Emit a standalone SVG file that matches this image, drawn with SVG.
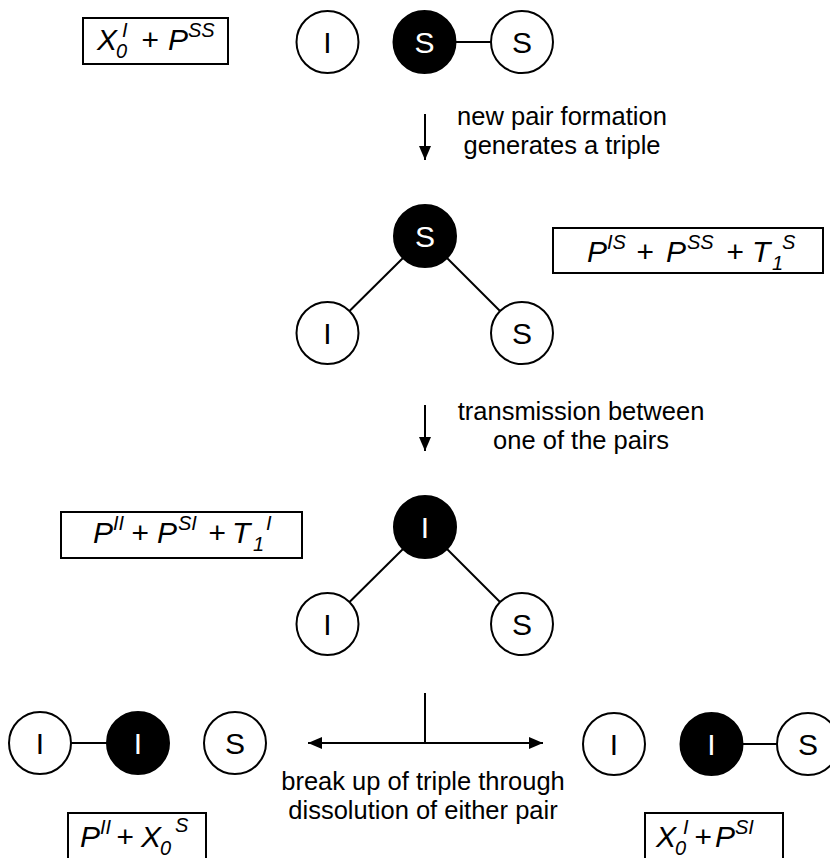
<svg xmlns="http://www.w3.org/2000/svg" width="830" height="858" viewBox="0 0 830 858">
<style>
  .c { fill: #fff; stroke: #000; stroke-width: 2; }
  .f { fill: #000; stroke: #000; stroke-width: 2; }
  .lt { font-family: "Liberation Sans", Arial, sans-serif; font-size: 30px; text-anchor: middle; fill: #000; }
  .lw { font-family: "Liberation Sans", Arial, sans-serif; font-size: 30px; text-anchor: middle; fill: #fff; }
  .box { fill: #fff; stroke: #000; stroke-width: 2; }
  .eq { font-family: "Liberation Sans", Arial, sans-serif; font-size: 30px; font-style: italic; fill: #000; }
  .sc { font-size: 20px; }
  .cap { font-family: "Liberation Sans", Arial, sans-serif; font-size: 25.5px; text-anchor: middle; fill: #000; }
  .edge { stroke: #000; stroke-width: 2; fill: none; }
  .arr { stroke: #000; stroke-width: 2; fill: none; marker-end: url(#ah); }
</style>
<defs>
  <marker id="ah" markerUnits="userSpaceOnUse" markerWidth="14" markerHeight="12" refX="14" refY="6" orient="auto-start-reverse">
    <path d="M0,0 L14,6 L0,12 z" fill="#000"/>
  </marker>
</defs>
<rect width="830" height="858" fill="#fff"/>

<g id="connectors">
  <line class="edge" x1="455.5" y1="42" x2="491" y2="42"/>
  <line class="edge" x1="403" y1="258" x2="349.5" y2="311"/>
  <line class="edge" x1="447" y1="258" x2="500" y2="311"/>
  <line class="edge" x1="403" y1="549" x2="349.5" y2="602"/>
  <line class="edge" x1="447" y1="549" x2="500" y2="602"/>
  <line class="edge" x1="71" y1="743" x2="107" y2="743"/>
  <line class="edge" x1="742.5" y1="744" x2="777" y2="744"/>
  <line class="arr" x1="425" y1="114" x2="425" y2="160"/>
  <line class="arr" x1="425" y1="405" x2="425" y2="451"/>
  <line class="edge" x1="425" y1="693" x2="425" y2="743"/>
  <line class="arr" style="marker-start:url(#ah)" x1="308" y1="743" x2="543" y2="743"/>
</g>

<g id="eq1">
  <rect class="box" x="83" y="18" width="145" height="46"/>
  <text class="eq"><tspan x="97" y="50">X</tspan><tspan class="sc" x="116" y="58">0</tspan><tspan class="sc" x="122" y="37">I</tspan><tspan x="141" y="50">+</tspan><tspan x="168" y="50">P</tspan><tspan class="sc" x="188" y="37">SS</tspan></text>
</g>
<g id="n1a"><circle class="c" cx="327.5" cy="42" r="31"/><text class="lt" x="327.5" y="53">I</text></g>
<g id="n1b"><circle class="f" cx="424.5" cy="42" r="31"/><text class="lw" x="424.5" y="53">S</text></g>
<g id="n1c"><circle class="c" cx="522" cy="42" r="31"/><text class="lt" x="522" y="53">S</text></g>

<g id="label1">
  <text class="cap" x="562" y="125">new pair formation</text>
  <text class="cap" x="562" y="154">generates a triple</text>
</g>

<g id="n2a"><circle class="f" cx="425" cy="236" r="31"/><text class="lw" x="425" y="247">S</text></g>
<g id="n2b"><circle class="c" cx="327.5" cy="333" r="31"/><text class="lt" x="327.5" y="344">I</text></g>
<g id="n2c"><circle class="c" cx="522" cy="333" r="31"/><text class="lt" x="522" y="344">S</text></g>
<g id="eq2">
  <rect class="box" x="553" y="228" width="270" height="45"/>
  <text class="eq"><tspan x="587" y="262">P</tspan><tspan class="sc" x="607" y="249">IS</tspan><tspan x="636" y="262">+</tspan><tspan x="666" y="262">P</tspan><tspan class="sc" x="687" y="249">SS</tspan><tspan x="726" y="262">+</tspan><tspan x="752" y="262">T</tspan><tspan class="sc" x="772" y="270">1</tspan><tspan class="sc" x="782" y="249">S</tspan></text>
</g>

<g id="label2">
  <text class="cap" x="581" y="420">transmission between</text>
  <text class="cap" x="581" y="449">one of the pairs</text>
</g>

<g id="n3a"><circle class="f" cx="425" cy="527" r="31"/><text class="lw" x="425" y="538">I</text></g>
<g id="n3b"><circle class="c" cx="327.5" cy="624" r="31"/><text class="lt" x="327.5" y="635">I</text></g>
<g id="n3c"><circle class="c" cx="522" cy="624" r="31"/><text class="lt" x="522" y="635">S</text></g>
<g id="eq3">
  <rect class="box" x="61" y="512" width="241" height="46"/>
  <text class="eq"><tspan x="93" y="543">P</tspan><tspan class="sc" x="113" y="530">II</tspan><tspan x="131" y="543">+</tspan><tspan x="157" y="543">P</tspan><tspan class="sc" x="178" y="530">SI</tspan><tspan x="208" y="543">+</tspan><tspan x="232" y="543">T</tspan><tspan class="sc" x="253" y="551">1</tspan><tspan class="sc" x="266" y="530">I</tspan></text>
</g>

<g id="n4a"><circle class="c" cx="40" cy="743" r="31"/><text class="lt" x="40" y="754">I</text></g>
<g id="n4b"><circle class="f" cx="138" cy="743" r="31"/><text class="lw" x="138" y="754">I</text></g>
<g id="n4c"><circle class="c" cx="235" cy="743" r="31"/><text class="lt" x="235" y="754">S</text></g>
<g id="n5a"><circle class="c" cx="614" cy="744" r="31"/><text class="lt" x="614" y="755">I</text></g>
<g id="n5b"><circle class="f" cx="711.5" cy="744" r="31"/><text class="lw" x="711.5" y="755">I</text></g>
<g id="n5c"><circle class="c" cx="808" cy="744" r="31"/><text class="lt" x="808" y="755">S</text></g>

<g id="label3">
  <text class="cap" x="423" y="790">break up of triple through</text>
  <text class="cap" x="423" y="819">dissolution of either pair</text>
</g>

<g id="eq4">
  <rect class="box" x="68" y="813" width="138" height="60"/>
  <text class="eq"><tspan x="80" y="847">P</tspan><tspan class="sc" x="100" y="834">II</tspan><tspan x="116" y="847">+</tspan><tspan x="141" y="847">X</tspan><tspan class="sc" x="160" y="855">0</tspan><tspan class="sc" x="175" y="832">S</tspan></text>
</g>
<g id="eq5">
  <rect class="box" x="645" y="813" width="138" height="60"/>
  <text class="eq"><tspan x="656" y="847">X</tspan><tspan class="sc" x="675" y="855">0</tspan><tspan class="sc" x="683" y="834">I</tspan><tspan x="694" y="847">+</tspan><tspan x="715" y="847">P</tspan><tspan class="sc" x="735" y="834">SI</tspan></text>
</g>
</svg>
